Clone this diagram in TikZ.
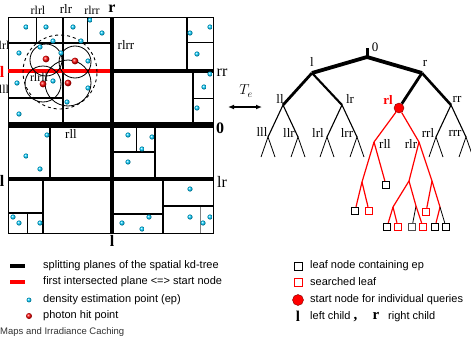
\documentclass[tikz,border=0pt]{standalone}
\usepackage{fontspec}
\setmainfont{Liberation Serif}
\setsansfont{Liberation Sans}
\usepackage{tikz}
\usetikzlibrary{arrows.meta, positioning, calc}

\begin{document}
\begin{tikzpicture}[x=1pt,y=-1pt,
  planeroot/.style={line width=5.5pt},
  planeone/.style={line width=4.5pt},
  planetwo/.style={line width=3.6pt},
  planemid/.style={line width=2.8pt},
  planelow/.style={line width=2.1pt},
  planethin/.style={line width=0.9pt},
  ep/.style={shading=ball, ball color=cyan!80!blue},
  hit/.style={shading=ball, ball color=red},
  leafbox/.style={draw, line width=0.9pt, minimum size=7.5pt, inner sep=0pt},
  searched/.style={leafbox, draw=red},
  startnode/.style={circle, fill=red, draw=red!50!black, line width=0.4pt, minimum size=10pt, inner sep=0pt},
  lab/.style={font=\fontsize{13}{13}\selectfont, inner sep=0pt},
  small/.style={font=\fontsize{12}{12}\selectfont, inner sep=0pt},
  big/.style={font=\bfseries\fontsize{16}{16}\selectfont, inner sep=0pt},
  side/.style={font=\fontsize{16}{16}\selectfont, inner sep=0pt},
  legend/.style={font=\sffamily\fontsize{11}{11}\selectfont, anchor=west, inner sep=0pt},
  redge/.style={red, line width=1.2pt},
  bedge/.style={line width=1.1pt},
  leg/.style={line width=0.8pt}
]
  \useasboundingbox (0,0) rectangle (471,340);

  % ---------- spatial subdivision ----------
  % thin splitting planes
  \draw[planethin] (36,17) -- (36,43);
  \draw[planethin] (87,17) -- (87,43);
  \draw[planethin] (187,42) -- (213,42);
  \draw[planethin] (193,98) -- (213,98);
  \draw[planethin] (27,213) -- (27,233);
  \draw[planethin] (136,125) -- (136,152);
  \draw[planethin, gray] (200,206) -- (200,233);

  % deeper planes
  \draw[planelow] (8,43) -- (112,43);
  \draw[planemid] (63,17) -- (63,125);
  \draw[planelow] (8,98) -- (63,98);
  \draw[planemid] (187,17) -- (187,71);
  \draw[planemid] (193,71) -- (193,125);
  \draw[planemid] (50,125) -- (50,179);
  \draw[planemid] (43,179) -- (43,233);
  \draw[planelow] (8,213) -- (43,213);
  \draw[planemid] (155,125) -- (155,179);
  \draw[planelow] (112,152) -- (155,152);
  \draw[planemid] (163,179) -- (163,233);
  \draw[planelow] (112,214) -- (163,214);
  \draw[planelow] (163,206) -- (213,206);

  % outer box
  \draw[line width=0.9pt] (8,17) rectangle (213,233);

  % second level planes
  \draw[planetwo] (112,71) -- (213,71);
  \draw[planetwo, red] (8,71) -- (112,71);
  \draw[planetwo] (8,179) -- (213,179);

  % first level and root plane
  \draw[planeone] (112,17) -- (112,233);
  \draw[planeroot] (8,125) -- (213,125);

  % query circles
  \draw[line width=0.8pt] (46,60) circle (16pt);
  \draw[line width=0.8pt] (75,62) circle (16pt);
  \draw[line width=0.8pt] (43,84) circle (18pt);
  \draw[line width=0.8pt] (68,83) circle (23pt);
  \draw[line width=0.9pt, dashed] (60,72) circle (37pt);

  % density estimation points
  \foreach \x/\y in {26/27, 46/27, 73/27, 90/20, 102/33, 53/41, 81/41, 19/53,
      40/47, 61/53, 88/61, 17/83, 53/81, 88/88, 67/102, 19/114, 210/27, 190/33,
      197/54, 210/74, 204/87, 197/108, 47/135, 26/156, 40/169, 13/217, 19/223,
      40/223, 128/135, 152/137, 142/149, 128/162, 190/189, 149/217, 122/223,
      142/229, 190/217, 210/217, 203/223}
    \shade[ep] (\x,\y) circle (2.6pt);

  % photon hit points
  \foreach \x/\y in {46/59, 75/61, 43/84, 68/83}
    \shade[hit] (\x,\y) circle (3.4pt);

  % plane labels
  \node[big] (pr) at (112,9) {r};
  \node[big] (p0) at (220,128) {0};
  \node[big] (pl) at (112,241) {l};
  \node[big] (pll) at (2,181) {l};
  \node[big, red] (prl) at (2,72) {l};
  \node[side] (prr) at (222,73) {rr};
  \node[side] (plr) at (222,182) {lr};
  \node[small] (prlrl) at (38,10) {rlrl};
  \node[lab] (prlr) at (66,9) {rlr};
  \node[small] (prlrr) at (92,10) {rlrr};
  \node[small] (plrl) at (4,45) {lrl};
  \node[small] (plll) at (4,89) {lll};
  \node[lab] (pin) at (126,45) {rlrr};
  \node[small] (prlrll) at (39,77) {rlrll};
  \node[lab] (prll) at (71,134) {rll};

  % extent arrow
  \coordinate (tel) at (228,107);
  \coordinate (ter) at (262,107);
  \draw[{Latex[length=6pt,width=5pt]}-{Latex[length=6pt,width=5pt]}, line width=1.3pt] (tel) -- (ter);
  \node[lab, font=\fontsize{14}{14}\selectfont] (te) at (246,91) {$T_e$};

  % ---------- kd-tree ----------
  \coordinate (top) at (367,48);
  \coordinate (root) at (367,57);
  \coordinate (l) at (312,73);
  \coordinate (r) at (422,73);
  \coordinate (ll) at (283,105);
  \coordinate (lr) at (342,105);
  \coordinate (rr) at (451,105);
  \node[startnode] (rl) at (399,108) {};

  \draw[line width=3pt] (top) -- (root);
  \draw[line width=3.8pt, line join=round] (l) -- (root) -- (r);
  \draw[line width=2.8pt] (l) -- (ll);
  \draw[line width=2.1pt] (l) -- (lr);
  \draw[line width=2.8pt] (r) -- (rl);
  \draw[line width=2.6pt] (r) -- (rr);

  % third level with open subtrees
  \foreach \p/\n/\x in {ll/lll/268, ll/llr/298, lr/lrl/327, lr/lrr/357, rr/rrl/436, rr/rrr/466} {
    \coordinate (\n) at (\x,137);
    \coordinate (\n a) at (\x-7,157);
    \coordinate (\n b) at (\x+7,157);
    \draw[bedge] (\p) -- (\n);
    \draw[leg] (\n a) -- (\n) -- (\n b);
  }

  % searched part of the tree
  \coordinate (rll) at (374,142);
  \coordinate (rlr) at (419,142);
  \coordinate (n1) at (362,182);
  \coordinate (na) at (409,181);
  \coordinate (nb) at (432,181);
  \coordinate (nc) at (393,207);
  \coordinate (nd) at (416,206);
  \coordinate (ne) at (440,207);

  \node[leafbox] (s1) at (386,185) {};
  \node[leafbox] (s2) at (355,211) {};
  \node[searched] (s3) at (369,211) {};
  \node[leafbox] (s4) at (387,227) {};
  \node[searched] (s5) at (398,227) {};
  \node[leafbox, draw=black!70] (s6) at (412,227) {};
  \node[searched] (s7) at (423,227) {};
  \node[searched] (s8) at (426,212) {};
  \node[leafbox] (s9) at (435,227) {};
  \node[leafbox] (s10) at (446,227) {};

  \draw[redge] (rl) -- (rll);
  \draw[redge] (rl) -- (rlr);
  \draw[redge] (rll) -- (n1);
  \draw[redge] (rll) -- (s1);
  \draw[redge] (n1) -- (s2);
  \draw[redge] (n1) -- (s3);
  \draw[redge] (rlr) -- (na);
  \draw[redge] (rlr) -- (nb);
  \draw[redge] (na) -- (nc);
  \draw[redge] (na) -- (nd);
  \draw[redge] (nc) -- (s4);
  \draw[redge] (nc) -- (s5);
  \draw[leg] (nd) -- (s6);
  \draw[redge] (nd) -- (s7);
  \draw[redge] (nb) -- (s8);
  \draw[redge] (nb) -- (ne);
  \draw[redge] (ne) -- (s9);
  \draw[leg] (ne) -- (s10);

  % tree labels
  \node[lab] (t0) at (375,47) {0};
  \node[lab] (tl) at (312,62) {l};
  \node[lab] (tr) at (425,63) {r};
  \node[lab] (tll) at (280,99) {ll};
  \node[lab] (tlr) at (350,99) {lr};
  \node[lab, red, font=\bfseries\fontsize{13}{13}\selectfont] (trl) at (388,100) {rl};
  \node[lab] (trr) at (457,99) {rr};
  \node[lab] (tlll) at (262,132) {lll};
  \node[lab] (tllr) at (289,133) {llr};
  \node[lab] (tlrl) at (318,133) {lrl};
  \node[lab] (tlrr) at (347,133) {lrr};
  \node[lab] (trrl) at (428,133) {rrl};
  \node[lab] (trrr) at (455,133) {rrr};
  \node[lab] (trll) at (385,144) {rll};
  \node[lab] (trlr) at (411,144) {rlr};

  % ---------- legend ----------
  \coordinate (ka) at (10,266);
  \coordinate (kb) at (25,266);
  \coordinate (fa) at (10,282);
  \coordinate (fb) at (25,282);
  \draw[line width=3.5pt] (ka) -- (kb);
  \draw[line width=3.5pt, red] (fa) -- (fb);
  \shade[ep] (29,300) circle (2.4pt);
  \shade[hit] (29,316) circle (3pt);
  \node[legend] (lg1) at (43,266) {splitting planes of the spatial kd-tree};
  \node[legend] (lg2) at (43,282) {first intersected plane <=> start node};
  \node[legend] (lg3) at (43,300) {density estimation point (ep)};
  \node[legend] (lg4) at (43,316) {photon hit point};
  \node[legend, font=\sffamily\fontsize{9.5}{9.5}\selectfont, black!80] (cap) at (0,332) {Maps and Irradiance Caching};

  \node[leafbox, minimum size=8pt] (kleaf) at (298,266) {};
  \node[searched, minimum size=8pt] (ksearch) at (298,282) {};
  \node[startnode, minimum size=11pt] (kstart) at (298,300) {};
  \node[legend] (lg5) at (310,266) {leaf node containing ep};
  \node[legend] (lg6) at (310,282) {searched leaf};
  \node[legend] (lg7) at (310,300) {start node for individual queries};
  \node[font=\bfseries\fontsize{15}{15}\selectfont, inner sep=0pt] (kl) at (298,316) {l};
  \node[legend] (lg8) at (310,317) {left child {\rmfamily\bfseries\fontsize{15}{15}\selectfont ,}};
  \node[font=\bfseries\fontsize{15}{15}\selectfont, inner sep=0pt] (kr) at (376,316) {r};
  \node[legend] (lg9) at (388,317) {right child};
\end{tikzpicture}
\end{document}
